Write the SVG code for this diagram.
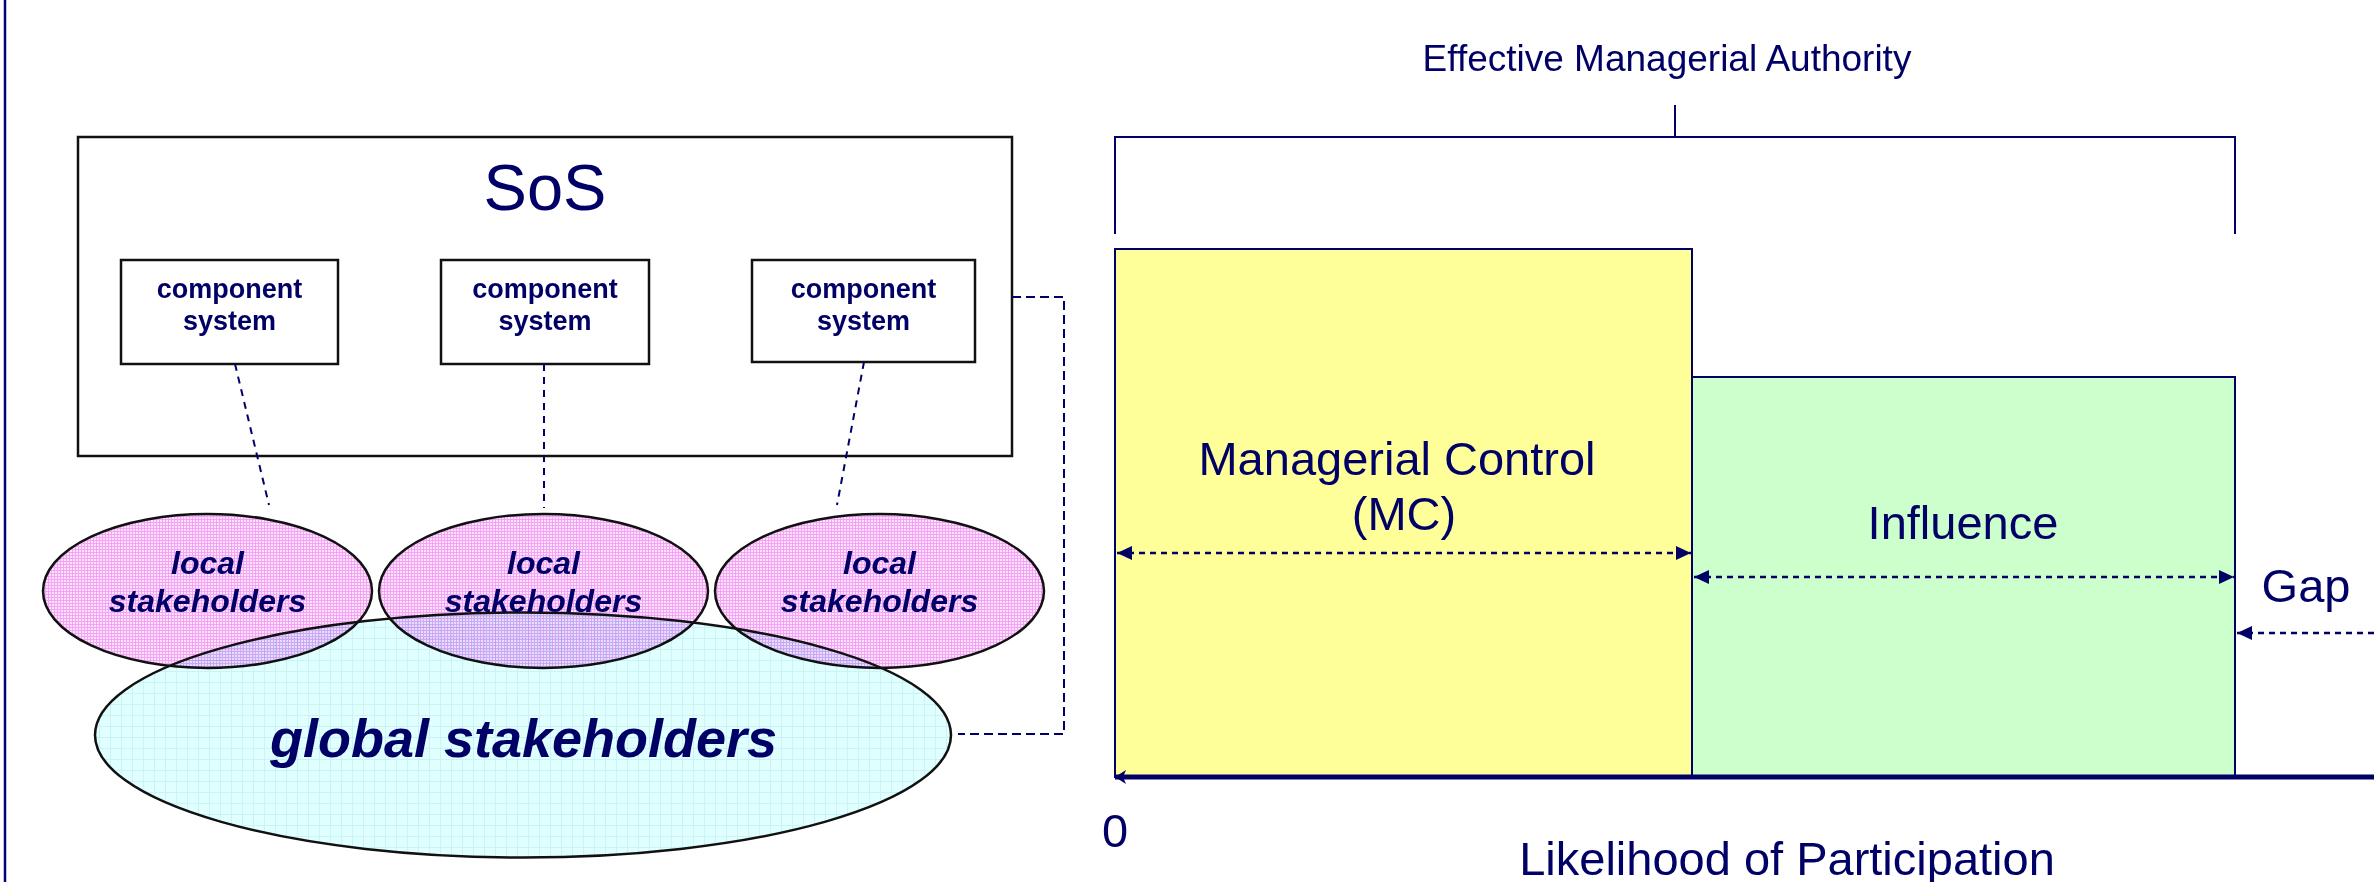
<svg xmlns="http://www.w3.org/2000/svg" width="2374" height="882" viewBox="0 0 2374 882">
<style>
text{font-family:"Liberation Sans",Arial,sans-serif;fill:#000066}
.box{fill:#fff;stroke:#111;stroke-width:2.5}
.comp{font-size:27px;font-weight:bold;text-anchor:middle}
.loc{font-size:32px;font-weight:bold;font-style:italic;text-anchor:middle}
.big{font-size:47px;text-anchor:middle}
.dash1{fill:none;stroke:#000066;stroke-width:2;stroke-dasharray:7 6}
.dash2{fill:none;stroke:#000066;stroke-width:2;stroke-dasharray:9 5}
.dim{fill:none;stroke:#000066;stroke-width:2.5;stroke-dasharray:6 5}
.nv{fill:none;stroke:#000066;stroke-width:2}
</style>
<defs>
<pattern id="pink" width="3" height="3" patternUnits="userSpaceOnUse">
<rect width="3" height="3" fill="#FEE2FE"/>
<rect width="3" height="1" fill="#F4A4F4"/>
<rect width="1" height="3" fill="#F4A4F4"/>
</pattern>
<pattern id="cyan" width="11" height="11" patternUnits="userSpaceOnUse">
<rect width="11" height="11" fill="#E0FFFF"/>
<rect width="11" height="1" fill="#CDF2F6"/>
<rect width="1" height="11" fill="#CDF2F6"/>
</pattern>
<marker id="ah" viewBox="0 0 15 14" refX="15" refY="7" markerWidth="15" markerHeight="14" markerUnits="userSpaceOnUse" orient="auto-start-reverse">
<path d="M0,0 L15,7 L0,14 z" fill="#000066"/>
</marker>
<marker id="ax" viewBox="0 0 11 14" refX="11" refY="7" markerWidth="11" markerHeight="14" markerUnits="userSpaceOnUse" orient="auto">
<path d="M0,0 L11,7 L0,14 L3,7 z" fill="#000066"/>
</marker>
</defs>
<rect width="2374" height="882" fill="#fff"/>
<line x1="5" y1="0" x2="5" y2="882" stroke="#000080" stroke-width="2.5"/>

<g id="sos">
<rect class="box" x="78" y="137" width="934" height="319"/>
<text x="545" y="210" style="font-size:65px;text-anchor:middle">SoS</text>
</g>
<g id="comp1">
<rect class="box" x="121" y="260" width="217" height="104"/>
<text class="comp" x="229.5" y="298">component</text>
<text class="comp" x="229.5" y="330">system</text>
</g>
<g id="comp2">
<rect class="box" x="441" y="260" width="208" height="104"/>
<text class="comp" x="545" y="298">component</text>
<text class="comp" x="545" y="330">system</text>
</g>
<g id="comp3">
<rect class="box" x="752" y="260" width="223" height="102"/>
<text class="comp" x="863.5" y="298">component</text>
<text class="comp" x="863.5" y="330">system</text>
</g>

<g id="connectors">
<path class="dash1" d="M235,364 L269,505"/>
<path class="dash1" d="M544,364 L544,508"/>
<path class="dash1" d="M864,362 L837,505"/>
<path class="dash2" d="M1012,297 H1064 V734 H958"/>
</g>

<g id="local1">
<ellipse cx="207.5" cy="591" rx="164.5" ry="77" fill="url(#pink)" stroke="#111" stroke-width="2.5"/>
</g>
<g id="local2">
<ellipse cx="543.5" cy="591" rx="164.5" ry="77" fill="url(#pink)" stroke="#111" stroke-width="2.5"/>
</g>
<g id="local3">
<ellipse cx="879.5" cy="591" rx="164.5" ry="77" fill="url(#pink)" stroke="#111" stroke-width="2.5"/>
</g>
<g id="global">
<ellipse cx="523" cy="735" rx="428" ry="122.5" fill="url(#cyan)" style="mix-blend-mode:multiply"/>
<ellipse cx="523" cy="735" rx="428" ry="122.5" fill="none" stroke="#111" stroke-width="2.5"/>
<text x="523.5" y="757" style="font-size:54px;font-weight:bold;font-style:italic;text-anchor:middle">global stakeholders</text>
</g>
<g id="local-labels">
<text class="loc" x="207.5" y="574">local</text>
<text class="loc" x="207.5" y="612">stakeholders</text>
<text class="loc" x="543.5" y="574">local</text>
<text class="loc" x="543.5" y="612">stakeholders</text>
<text class="loc" x="879.5" y="574">local</text>
<text class="loc" x="879.5" y="612">stakeholders</text>
</g>

<g id="authority">
<text x="1667" y="71" style="font-size:37px;text-anchor:middle">Effective Managerial Authority</text>
<path class="nv" d="M1115,234 V137 H2235 V234"/>
<path class="nv" d="M1675,105 V137" stroke-width="1.5"/>
</g>
<g id="mc">
<rect x="1115" y="249" width="577" height="528" fill="#FFFF99" stroke="#000066" stroke-width="2"/>
<text class="big" x="1397" y="475">Managerial Control</text>
<text class="big" x="1404" y="530">(MC)</text>
</g>
<g id="influence">
<rect x="1692" y="377" width="543" height="400" fill="#CCFFCC" stroke="#000066" stroke-width="2"/>
<text class="big" x="1963" y="539">Influence</text>
</g>
<g id="gap">
<text class="big" x="2306" y="602">Gap</text>
</g>
<g id="axis">
<line x1="2374" y1="777" x2="1115" y2="777" stroke="#000066" stroke-width="5" marker-end="url(#ax)"/>
<text class="big" x="1115" y="847">0</text>
<text class="big" x="1787" y="875">Likelihood of Participation</text>
</g>
<g id="dimensions">
<line class="dim" x1="1117" y1="553" x2="1691" y2="553" marker-start="url(#ah)" marker-end="url(#ah)"/>
<line class="dim" x1="1694" y1="577" x2="2234" y2="577" marker-start="url(#ah)" marker-end="url(#ah)"/>
<line class="dim" x1="2374" y1="633" x2="2237" y2="633" marker-end="url(#ah)"/>
</g>
</svg>
